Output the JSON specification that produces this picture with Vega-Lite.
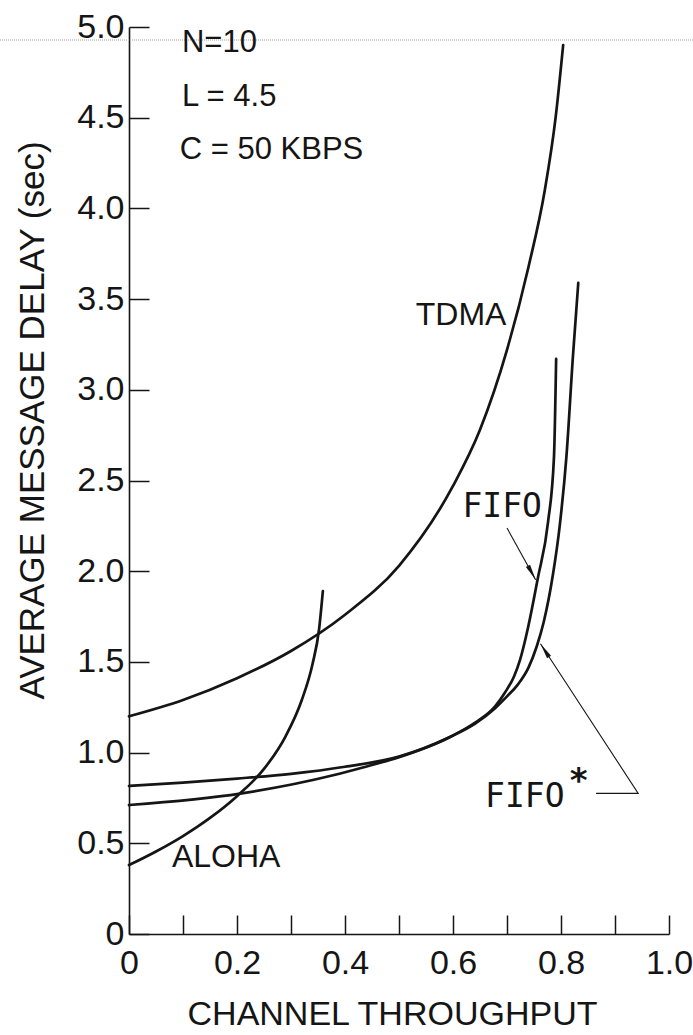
{
  "$schema": "https://vega.github.io/schema/vega-lite/v6.json",
  "width": 540,
  "height": 907,
  "autosize": "none",
  "padding": {"left": 129, "top": 27, "right": 24, "bottom": 101},
  "background": "white",
  "config": {"view": {"stroke": null}, "font": "Liberation Sans"},
  "datasets": {
    "curves": [
      {"series": "TDMA", "x": 0, "y": 1.2},
      {"series": "TDMA", "x": 0.1, "y": 1.29},
      {"series": "TDMA", "x": 0.2, "y": 1.41},
      {"series": "TDMA", "x": 0.3, "y": 1.56},
      {"series": "TDMA", "x": 0.4, "y": 1.76},
      {"series": "TDMA", "x": 0.5, "y": 2.03},
      {"series": "TDMA", "x": 0.6, "y": 2.47},
      {"series": "TDMA", "x": 0.65, "y": 2.78},
      {"series": "TDMA", "x": 0.7, "y": 3.22},
      {"series": "TDMA", "x": 0.74, "y": 3.68},
      {"series": "TDMA", "x": 0.77, "y": 4.1},
      {"series": "TDMA", "x": 0.79, "y": 4.5},
      {"series": "TDMA", "x": 0.804, "y": 4.9},
      {"series": "ALOHA", "x": 0, "y": 0.38},
      {"series": "ALOHA", "x": 0.05, "y": 0.455},
      {"series": "ALOHA", "x": 0.1, "y": 0.54},
      {"series": "ALOHA", "x": 0.15, "y": 0.64},
      {"series": "ALOHA", "x": 0.2, "y": 0.76},
      {"series": "ALOHA", "x": 0.25, "y": 0.91},
      {"series": "ALOHA", "x": 0.29, "y": 1.09},
      {"series": "ALOHA", "x": 0.32, "y": 1.29},
      {"series": "ALOHA", "x": 0.34, "y": 1.49},
      {"series": "ALOHA", "x": 0.352, "y": 1.68},
      {"series": "ALOHA", "x": 0.359, "y": 1.89},
      {"series": "FIFO", "x": 0, "y": 0.711},
      {"series": "FIFO", "x": 0.206, "y": 0.774},
      {"series": "FIFO", "x": 0.378, "y": 0.875},
      {"series": "FIFO", "x": 0.433, "y": 0.918},
      {"series": "FIFO", "x": 0.5, "y": 0.975},
      {"series": "FIFO", "x": 0.594, "y": 1.085},
      {"series": "FIFO", "x": 0.641, "y": 1.165},
      {"series": "FIFO", "x": 0.678, "y": 1.255},
      {"series": "FIFO", "x": 0.696, "y": 1.33},
      {"series": "FIFO", "x": 0.713, "y": 1.42},
      {"series": "FIFO", "x": 0.724, "y": 1.51},
      {"series": "FIFO", "x": 0.739, "y": 1.69},
      {"series": "FIFO", "x": 0.757, "y": 1.96},
      {"series": "FIFO", "x": 0.776, "y": 2.27},
      {"series": "FIFO", "x": 0.787, "y": 2.63},
      {"series": "FIFO", "x": 0.791, "y": 3.17},
      {"series": "FIFO*", "x": 0, "y": 0.816},
      {"series": "FIFO*", "x": 0.1, "y": 0.835},
      {"series": "FIFO*", "x": 0.2, "y": 0.857},
      {"series": "FIFO*", "x": 0.3, "y": 0.883},
      {"series": "FIFO*", "x": 0.4, "y": 0.922},
      {"series": "FIFO*", "x": 0.5, "y": 0.978},
      {"series": "FIFO*", "x": 0.594, "y": 1.086},
      {"series": "FIFO*", "x": 0.641, "y": 1.16},
      {"series": "FIFO*", "x": 0.678, "y": 1.245},
      {"series": "FIFO*", "x": 0.7, "y": 1.31},
      {"series": "FIFO*", "x": 0.72, "y": 1.375},
      {"series": "FIFO*", "x": 0.74, "y": 1.47},
      {"series": "FIFO*", "x": 0.755, "y": 1.585},
      {"series": "FIFO*", "x": 0.768, "y": 1.72},
      {"series": "FIFO*", "x": 0.785, "y": 1.98},
      {"series": "FIFO*", "x": 0.798, "y": 2.26},
      {"series": "FIFO*", "x": 0.81, "y": 2.63},
      {"series": "FIFO*", "x": 0.822, "y": 3.18},
      {"series": "FIFO*", "x": 0.832, "y": 3.59}
    ],
    "params": [
      {"label": "N=10", "x": 0.098, "y": 4.912},
      {"label": "L = 4.5", "x": 0.098, "y": 4.614},
      {"label": "C = 50 KBPS", "x": 0.094, "y": 4.322}
    ],
    "names": [
      {"label": "TDMA", "x": 0.615, "y": 3.412},
      {"label": "ALOHA", "x": 0.18, "y": 0.424}
    ],
    "mono": [
      {"label": "FIFO", "x": 0.691, "y": 2.354},
      {"label": "FIFO", "x": 0.733, "y": 0.755}
    ],
    "star": [
      {"label": "*", "x": 0.833, "y": 0.84}
    ],
    "leaders": [
      {"leader": "FIFO", "seq": 1, "x": 0.7, "y": 2.238},
      {"leader": "FIFO", "seq": 2, "x": 0.753, "y": 1.953},
      {"leader": "FIFO*", "seq": 1, "x": 0.865, "y": 0.775},
      {"leader": "FIFO*", "seq": 2, "x": 0.943, "y": 0.775},
      {"leader": "FIFO*", "seq": 3, "x": 0.762, "y": 1.6}
    ],
    "heads": [
      {"leader": "FIFO", "x": 0.753, "y": 1.953},
      {"leader": "FIFO*", "x": 0.762, "y": 1.6}
    ],
    "artifact": [
      {"x": -0.239, "x2": 1.044, "y": 4.928}
    ]
  },
  "layer": [
    {
      "data": {"name": "curves"},
      "mark": {"type": "line", "interpolate": "monotone", "color": "#151515", "strokeCap": "round"},
      "encoding": {
        "x": {
          "field": "x", "type": "quantitative",
          "scale": {"domain": [0, 1], "nice": false, "zero": false},
          "axis": {
            "title": "CHANNEL THROUGHPUT",
            "values": [0, 0.1, 0.2, 0.3, 0.4, 0.5, 0.6, 0.7, 0.8, 0.9, 1.0],
            "labelExpr": "round(datum.value*10)%2==0 ? (datum.value==0 ? '0' : format(datum.value,'.1f')) : ''",
            "grid": false,
            "tickSize": -19,
            "tickWidth": 1.5,
            "tickColor": "#151515",
            "domainColor": "#151515",
            "domainWidth": 1.6,
            "labelFont": "Liberation Sans",
            "labelFontSize": 34,
            "labelColor": "#151515",
            "labelPadding": 31,
            "labelFlush": false,
            "labelOverlap": false,
            "titleFont": "Liberation Sans",
            "titleFontSize": 34,
            "titleFontWeight": "normal",
            "titleColor": "#151515",
            "titleX": 263,
            "titleY": 80,
            "titleBaseline": "middle",
            "titleAlign": "center"
          }
        },
        "y": {
          "field": "y", "type": "quantitative",
          "scale": {"domain": [0, 5], "nice": false, "zero": false},
          "axis": {
            "title": "AVERAGE MESSAGE DELAY (sec)",
            "values": [0, 0.5, 1, 1.5, 2, 2.5, 3, 3.5, 4, 4.5, 5],
            "labelExpr": "datum.value==0 ? '0' : format(datum.value,'.1f')",
            "grid": false,
            "tickSize": -20,
            "tickWidth": 1.5,
            "tickColor": "#151515",
            "domainColor": "#151515",
            "domainWidth": 1.6,
            "labelFont": "Liberation Sans",
            "labelFontSize": 34,
            "labelColor": "#151515",
            "labelPadding": 25,
            "labelFlush": false,
            "labelOverlap": false,
            "titleFont": "Liberation Sans",
            "titleFontSize": 35,
            "titleFontWeight": "normal",
            "titleColor": "#151515",
            "titleX": -97,
            "titleY": 393,
            "titleAngle": 270,
            "titleBaseline": "middle",
            "titleAlign": "center"
          }
        },
        "detail": {"field": "series"},
        "strokeWidth": {
          "field": "series", "type": "nominal",
          "scale": {"domain": ["TDMA", "ALOHA", "FIFO", "FIFO*"], "range": [2.7, 2.7, 1.7, 1.7]},
          "legend": null
        }
      }
    },
    {
      "data": {"name": "artifact"},
      "mark": {"type": "rule", "color": "#bdbdbd", "strokeWidth": 1.5, "strokeDash": [1, 1]},
      "encoding": {
        "x": {"field": "x", "type": "quantitative", "scale": {"domain": [0, 1]}},
        "x2": {"field": "x2"},
        "y": {"field": "y", "type": "quantitative", "scale": {"domain": [0, 5]}}
      }
    },
    {
      "data": {"name": "leaders"},
      "mark": {"type": "line", "color": "#151515", "strokeWidth": 1.1},
      "encoding": {
        "x": {"field": "x", "type": "quantitative", "scale": {"domain": [0, 1]}},
        "y": {"field": "y", "type": "quantitative", "scale": {"domain": [0, 5]}},
        "detail": {"field": "leader"},
        "order": {"field": "seq", "type": "quantitative"}
      }
    },
    {
      "data": {"name": "heads"},
      "transform": [{"filter": "datum.leader == 'FIFO'"}],
      "mark": {"type": "point", "shape": "M0,0L-0.45,3L0.45,3Z", "filled": true, "color": "#151515", "size": 110, "angle": 151, "opacity": 1},
      "encoding": {
        "x": {"field": "x", "type": "quantitative", "scale": {"domain": [0, 1]}},
        "y": {"field": "y", "type": "quantitative", "scale": {"domain": [0, 5]}}
      }
    },
    {
      "data": {"name": "heads"},
      "transform": [{"filter": "datum.leader == 'FIFO*'"}],
      "mark": {"type": "point", "shape": "M0,0L-0.45,3L0.45,3Z", "filled": true, "color": "#151515", "size": 110, "angle": 327, "opacity": 1},
      "encoding": {
        "x": {"field": "x", "type": "quantitative", "scale": {"domain": [0, 1]}},
        "y": {"field": "y", "type": "quantitative", "scale": {"domain": [0, 5]}}
      }
    },
    {
      "data": {"name": "params"},
      "mark": {"type": "text", "align": "left", "baseline": "middle", "font": "Liberation Sans", "fontSize": 31, "color": "#151515"},
      "encoding": {
        "x": {"field": "x", "type": "quantitative", "scale": {"domain": [0, 1]}},
        "y": {"field": "y", "type": "quantitative", "scale": {"domain": [0, 5]}},
        "text": {"field": "label"}
      }
    },
    {
      "data": {"name": "names"},
      "mark": {"type": "text", "align": "center", "baseline": "middle", "font": "Liberation Sans", "fontSize": 32, "color": "#151515"},
      "encoding": {
        "x": {"field": "x", "type": "quantitative", "scale": {"domain": [0, 1]}},
        "y": {"field": "y", "type": "quantitative", "scale": {"domain": [0, 5]}},
        "text": {"field": "label"}
      }
    },
    {
      "data": {"name": "mono"},
      "mark": {"type": "text", "align": "center", "baseline": "middle", "font": "DejaVu Sans Mono", "fontSize": 33, "color": "#151515"},
      "encoding": {
        "x": {"field": "x", "type": "quantitative", "scale": {"domain": [0, 1]}},
        "y": {"field": "y", "type": "quantitative", "scale": {"domain": [0, 5]}},
        "text": {"field": "label"}
      }
    },
    {
      "data": {"name": "star"},
      "mark": {"type": "text", "align": "center", "baseline": "middle", "font": "DejaVu Sans Mono", "fontSize": 34, "fontWeight": "bold", "color": "#151515"},
      "encoding": {
        "x": {"field": "x", "type": "quantitative", "scale": {"domain": [0, 1]}},
        "y": {"field": "y", "type": "quantitative", "scale": {"domain": [0, 5]}},
        "text": {"field": "label"}
      }
    }
  ]
}
